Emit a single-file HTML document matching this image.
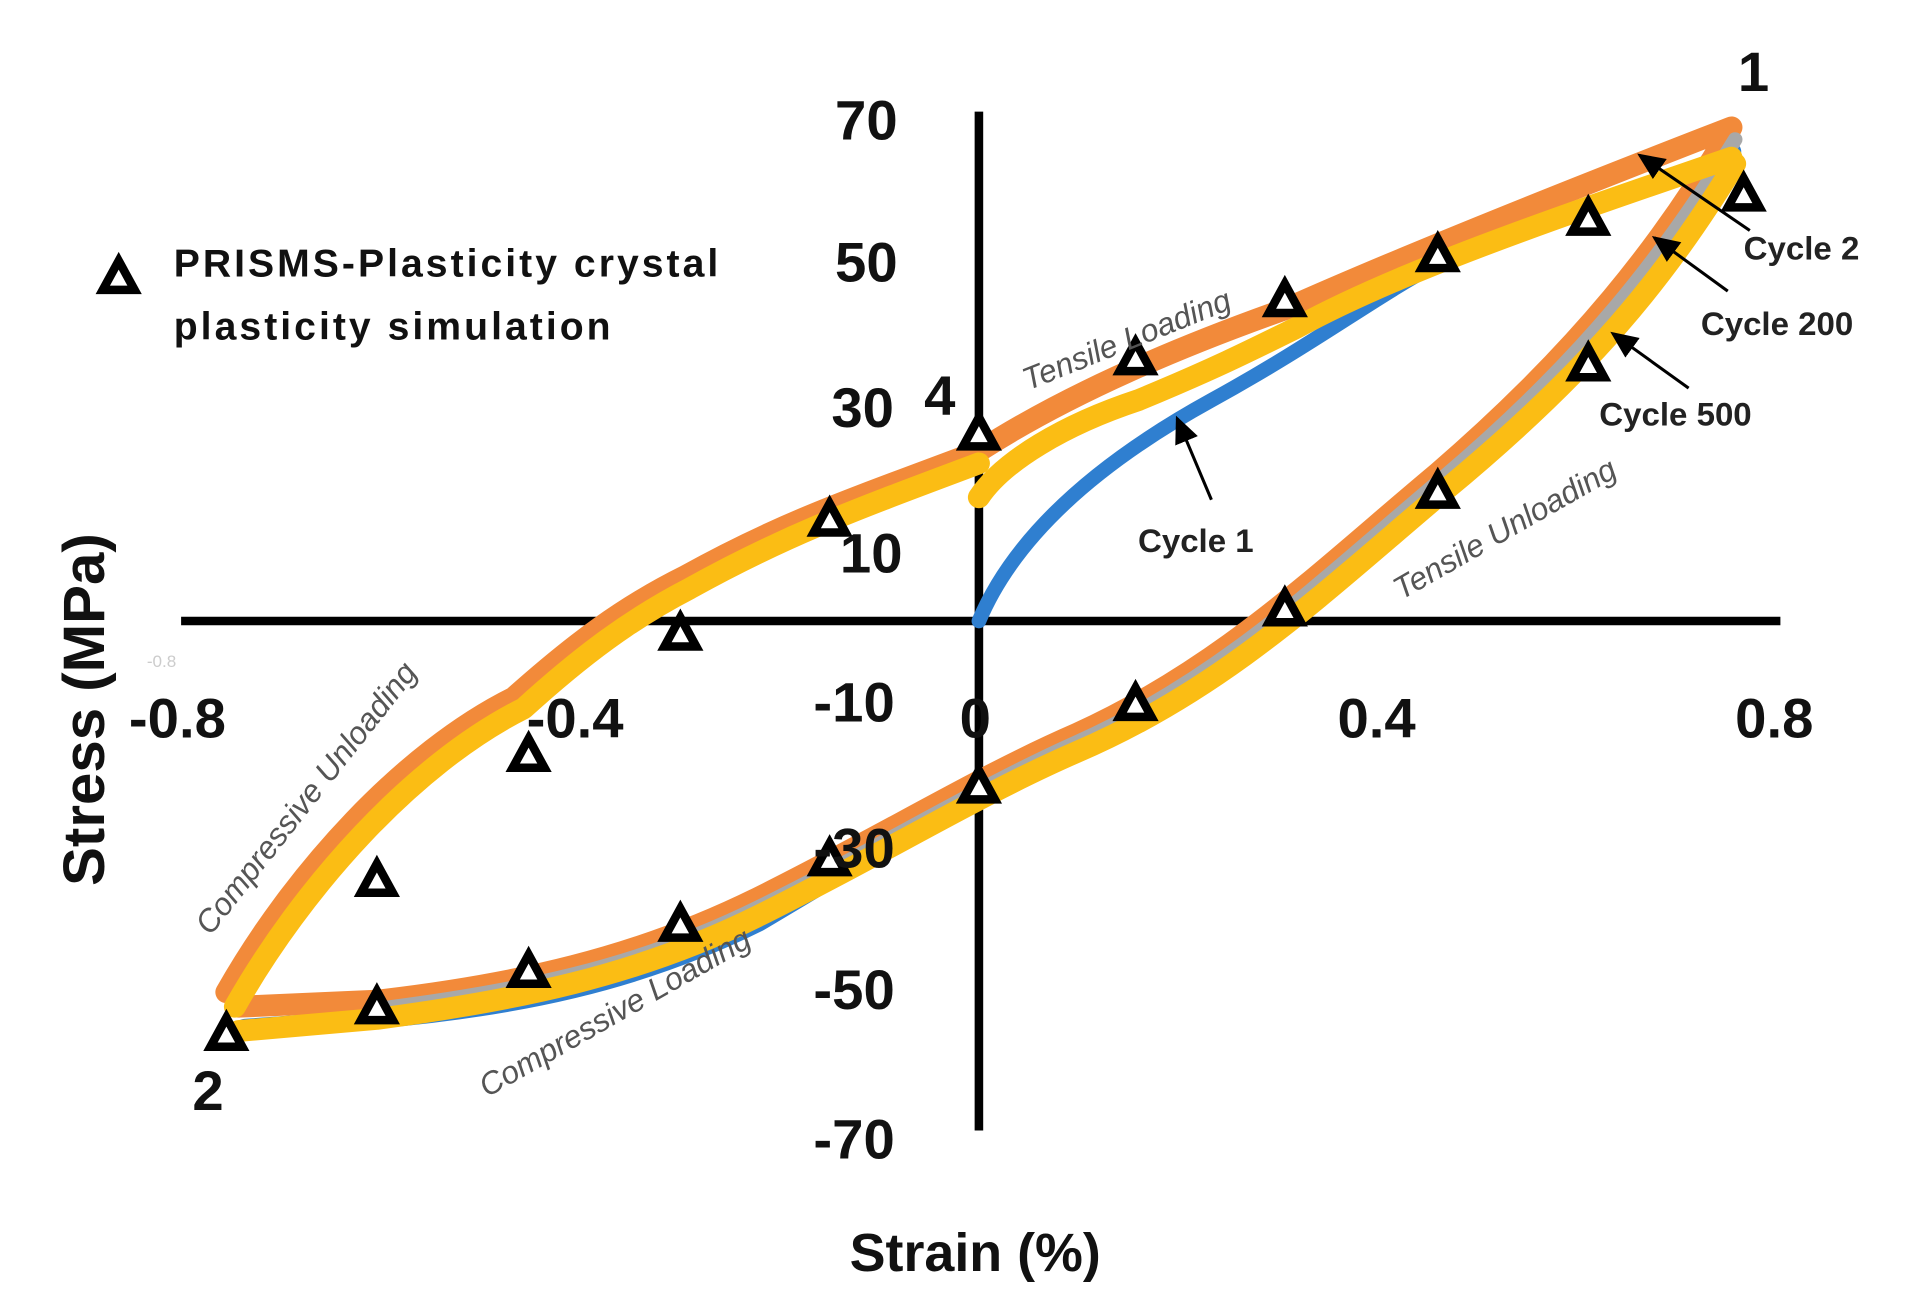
<!DOCTYPE html>
<html><head><style>html,body{margin:0;padding:0;background:#fff;}svg{display:block}</style></head>
<body>
<svg width="1915" height="1310" viewBox="0 0 1565 1080" preserveAspectRatio="none" xmlns="http://www.w3.org/2000/svg" font-family="Liberation Sans, sans-serif">
<defs><marker id="ah" markerWidth="10" markerHeight="10" refX="8" refY="5" orient="auto"><path d="M0,1 L9,5 L0,9 z" fill="#000"/></marker></defs>
<line x1="148" y1="512" x2="1455" y2="512" stroke="#000" stroke-width="7"/>
<line x1="800" y1="92" x2="800" y2="932" stroke="#000" stroke-width="7"/>
<g fill="none" stroke-linecap="round" stroke-linejoin="round">
<path d="M800,512 C830,440 900,380 990,330 S1130,240 1180,215" stroke="#2f7fd0" stroke-width="12"/>
<path d="M1415,125 C1360,220 1300,300 1175,400 C1080,480 1000,560 880,610 C800,650 720,700 620,760 C520,810 420,830 308,840 L200,848" stroke="#2f7fd0" stroke-width="16"/>
<path d="M185,818 C240,720 330,620 420,575 C470,530 510,500 560,475 C640,430 700,410 800,372 C880,320 980,280 1050,255 C1150,210 1300,150 1415,105 M1415,105 C1360,200 1290,290 1175,390 C1080,470 1000,550 880,605 C800,640 720,690 620,740 C520,790 420,812 308,825 L195,830" stroke="#f28a3a" stroke-width="18"/>
<path d="M1418,115 C1360,210 1295,295 1178,395 C1080,478 1000,558 880,612 C800,648 720,698 620,748 C520,798 420,818 308,832" stroke="#a8a8a8" stroke-width="12"/>
<path d="M192,830 C247,732 337,630 428,584 C476,540 516,510 564,485 C644,440 705,418 800,382 M800,410 C820,380 870,350 930,330 C990,305 1020,290 1060,270 C1150,220 1300,170 1415,130 M1418,135 C1360,230 1300,305 1180,405 C1080,490 1000,568 880,620 C800,655 720,705 620,755 C520,805 420,825 308,840 L195,850" stroke="#fbbd14" stroke-width="18"/>
</g>
<g fill="#fff" stroke="#000" stroke-width="7" stroke-linejoin="miter">
<path id="t" d="M0,-13 L13,11 L-13,11 Z" transform="translate(185,852)"/>
<use href="#t" transform="translate(123,-22)"/><use href="#t" transform="translate(247,-52)"/><use href="#t" transform="translate(371,-90)"/><use href="#t" transform="translate(493,-144)"/><use href="#t" transform="translate(615,-204)"/><use href="#t" transform="translate(743,-272)"/><use href="#t" transform="translate(865,-350)"/><use href="#t" transform="translate(990,-447)"/><use href="#t" transform="translate(1113,-552)"/><use href="#t" transform="translate(1240,-692)"/><use href="#t" transform="translate(1113,-672)"/><use href="#t" transform="translate(990,-642)"/><use href="#t" transform="translate(865,-605)"/><use href="#t" transform="translate(743,-557)"/><use href="#t" transform="translate(615,-495)"/><use href="#t" transform="translate(493,-424)"/><use href="#t" transform="translate(371,-330)"/><use href="#t" transform="translate(247,-230)"/><use href="#t" transform="translate(123,-127)"/>
<use href="#t" transform="translate(-88,-624)"/>
</g>
<g font-weight="bold" font-size="46" fill="#111">
<text x="708" y="115" text-anchor="middle">70</text>
<text x="708" y="232" text-anchor="middle">50</text>
<text x="705" y="352" text-anchor="middle">30</text>
<text x="768" y="342" text-anchor="middle">4</text>
<text x="712" y="472" text-anchor="middle">10</text>
<text x="698" y="595" text-anchor="middle">-10</text>
<text x="698" y="715" text-anchor="middle">-30</text>
<text x="698" y="832" text-anchor="middle">-50</text>
<text x="698" y="955" text-anchor="middle">-70</text>
<text x="145" y="608" text-anchor="middle">-0.8</text>
<text x="470" y="608" text-anchor="middle">-0.4</text>
<text x="797" y="608" text-anchor="middle">0</text>
<text x="1125" y="608" text-anchor="middle">0.4</text>
<text x="1450" y="608" text-anchor="middle">0.8</text>
<text x="1433" y="75" text-anchor="middle">1</text>
<text x="170" y="915" text-anchor="middle">2</text>
<text x="797" y="1048" text-anchor="middle" font-size="44">Strain (%)</text>
<text transform="translate(85,585) rotate(-90)" text-anchor="middle" font-size="48">Stress (MPa)</text>
</g>
<text x="120" y="550" font-size="14" fill="#ccc">-0.8</text>
<g font-weight="bold" font-size="32" fill="#111">
<text x="142" y="228" textLength="445">PRISMS-Plasticity  crystal</text>
<text x="142" y="280" textLength="357">plasticity simulation</text>
</g>
<g font-weight="bold" font-size="27" fill="#222">
<text x="1425" y="214">Cycle 2</text>
<text x="1390" y="276">Cycle 200</text>
<text x="1307" y="351">Cycle 500</text>
<text x="930" y="455">Cycle 1</text>
</g>
<g stroke="#000" stroke-width="2.5" marker-end="url(#ah)">
<line x1="1430" y1="190" x2="1340" y2="128"/>
<line x1="1412" y1="240" x2="1352" y2="196"/>
<line x1="1380" y1="320" x2="1318" y2="275"/>
<line x1="990" y1="412" x2="962" y2="345"/>
</g>
<g font-style="italic" font-size="26" fill="#555">
<text transform="translate(840,322) rotate(-22)">Tensile Loading</text>
<text transform="translate(1145,495) rotate(-30)">Tensile Unloading</text>
<text transform="translate(172,772) rotate(-52)">Compressive Unloading</text>
<text transform="translate(398,905) rotate(-30)">Compressive Loading</text>
</g>
</svg>
</body></html>
